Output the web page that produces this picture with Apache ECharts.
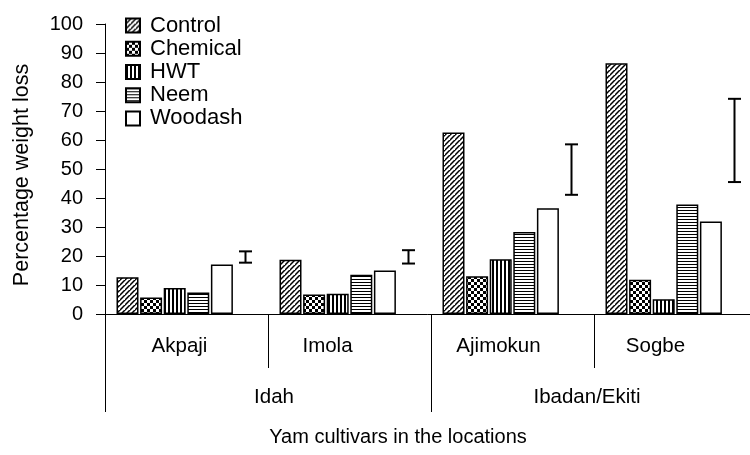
<!DOCTYPE html>
<html>
<head>
<meta charset="utf-8">
<script src="https://cdn.jsdelivr.net/npm/echarts@6/dist/echarts.min.js"></script>
<style>html,body{margin:0;padding:0;background:#fff}#c{width:750px;height:455px}</style>
</head>
<body>
<div id="c"></div>
<script>
// ---- data ----
const categories = ['Akpaji', 'Imola', 'Ajimokun', 'Sogbe'];
const locations = ['Idah', 'Ibadan/Ekiti'];
const seriesNames = ['Control', 'Chemical', 'HWT', 'Neem', 'Woodash'];
const control = [12.7, 18.7, 62.6, 86.5];
const chemical = [5.7, 6.7, 13.0, 11.8];
const hwt = [9.0, 7.0, 18.9, 5.1];
const neem = [7.4, 13.5, 28.3, 37.8];
const woodash = [17.1, 15.0, 36.5, 31.9];
const errLow = [17.7, 17.4, 41.1, 45.5];
const errHigh = [21.6, 22.0, 58.5, 74.2];
const yMin = 0, yMax = 100, yStep = 10;
const xTitle = 'Yam cultivars in the locations';
const yTitle = 'Percentage weight loss';

// ---- styles ----
const FONT = "'Liberation Sans', Arial, sans-serif";
const BAR_W = 22, BAR_GAP = 1.6;
function tile(w, h, draw) {
  const c = document.createElement('canvas');
  c.width = w; c.height = h;
  const g = c.getContext('2d');
  g.fillStyle = '#fff'; g.fillRect(0, 0, w, h);
  g.fillStyle = '#000'; g.strokeStyle = '#000';
  draw(g, w, h);
  return { image: c, repeat: 'repeat' };
}
const patDiag = tile(5, 5, (g, w, h) => {
  g.lineWidth = 1.5;
  g.beginPath();
  g.moveTo(-1, h + 1); g.lineTo(w + 1, -1);
  g.moveTo(-1 - w, h + 1); g.lineTo(1, -1);
  g.moveTo(w - 1, 2 * h + 1); g.lineTo(2 * w + 1, h - 1);
  g.stroke();
});
const patCheck = tile(6, 6, (g) => { g.fillRect(0, 0, 3, 3); g.fillRect(3, 3, 3, 3); });
const patVert = tile(4, 4, (g) => { g.fillRect(0, 0, 2, 4); });
const patHorz = tile(3, 3, (g) => { g.fillRect(0, 0, 3, 1); });
const fills = [patDiag, patCheck, patVert, patHorz, '#ffffff'];
const valueSets = [control, chemical, hwt, neem, woodash];

// per-label horizontal shift (px, negative = left)
const catShift = [-7, -22, -14, -20];
const locShift = [6, -7];
function richFor(shifts, size) {
  const r = {};
  shifts.forEach((s, i) => {
    r['s' + i] = {
      fontSize: size, fontFamily: FONT, color: '#000',
      padding: s < 0 ? [0, -2 * s, 0, 0] : [0, 0, 0, 2 * s]
    };
  });
  return r;
}

const gapPct = (BAR_GAP / BAR_W * 100) + '%';
const barSeries = seriesNames.map((n, k) => ({
  name: n, type: 'bar', xAxisIndex: 0, yAxisIndex: 0,
  barWidth: BAR_W, barGap: gapPct,
  data: valueSets[k],
  itemStyle: { color: fills[k], borderColor: '#000', borderWidth: 1.5 },
  emphasis: { disabled: true }
}));
// empty sixth slot that holds the error bar position
barSeries.push({
  name: '_slot', type: 'bar', barWidth: BAR_W, barGap: gapPct,
  data: categories.map(() => null), silent: true
});

const chart = echarts.init(document.getElementById('c'), null, { renderer: 'canvas' });
chart.setOption({
  animation: false,
  backgroundColor: '#fff',
  grid: { left: 105, top: 24, width: 652, height: 290, containLabel: false, outerBoundsMode: 'none' },
  legend: {
    data: seriesNames,
    orient: 'vertical', left: 120, top: 9,
    itemWidth: 14, itemHeight: 14, itemGap: 0,
    icon: 'rect',
    selectedMode: false,
    textStyle: { fontSize: 22, fontFamily: FONT, color: '#000', lineHeight: 23.2, padding: [0, 0, 0, 5] }
  },
  xAxis: [
    {
      type: 'category', data: categories, position: 'bottom',
      axisLine: { lineStyle: { color: '#000', width: 1 } },
      axisTick: { show: true, length: 54, interval: 0, lineStyle: { color: '#000', width: 1 } },
      axisLabel: {
        margin: 22, interval: 0,
        formatter: (v, i) => '{s' + i + '|' + v + '}',
        rich: richFor(catShift, 20.5)
      }
    },
    {
      type: 'category', data: locations, position: 'bottom', gridIndex: 0,
      axisLine: { show: false },
      axisTick: { show: true, length: 98, interval: 0, lineStyle: { color: '#000', width: 1 } },
      axisLabel: {
        margin: 73, interval: 0,
        formatter: (v, i) => '{s' + i + '|' + v + '}',
        rich: richFor(locShift, 20.5)
      }
    }
  ],
  yAxis: {
    type: 'value', min: yMin, max: yMax, interval: yStep,
    name: yTitle, nameLocation: 'middle', nameGap: 72,
    nameTextStyle: { fontSize: 21.5, fontFamily: FONT, color: '#000', padding: [0, 12, 0, 0] },
    axisLine: { show: true, lineStyle: { color: '#000', width: 1 } },
    axisTick: { show: true, length: 9, lineStyle: { color: '#000', width: 1 } },
    axisLabel: { fontSize: 20, fontFamily: FONT, color: '#000', margin: 22 },
    splitLine: { show: false }
  },
  graphic: [{
    type: 'text', x: 398, y: 437,
    style: { text: xTitle, fontSize: 20, fontFamily: FONT, fill: '#000', align: 'center', verticalAlign: 'middle' }
  }],
  series: barSeries.concat([{
    name: 'error', type: 'custom', xAxisIndex: 0, yAxisIndex: 0,
    data: categories.map((c, i) => [i, errLow[i], errHigh[i]]),
    encode: { x: 0, y: [1, 2] },
    silent: true,
    renderItem: function (params, api) {
      const i = api.value(0);
      const lo = api.coord([i, api.value(1)]);
      const hi = api.coord([i, api.value(2)]);
      const total = 6 * BAR_W + 5 * BAR_GAP;
      const x = lo[0] + total / 2 - BAR_W / 2;
      const cap = 6.5;
      const st = { stroke: '#000', lineWidth: 2, fill: null };
      return {
        type: 'group', children: [
          { type: 'line', shape: { x1: x, y1: lo[1], x2: x, y2: hi[1] }, style: st },
          { type: 'line', shape: { x1: x - cap, y1: lo[1], x2: x + cap, y2: lo[1] }, style: st },
          { type: 'line', shape: { x1: x - cap, y1: hi[1], x2: x + cap, y2: hi[1] }, style: st }
        ]
      };
    }
  }])
});
</script>
</body>
</html>
